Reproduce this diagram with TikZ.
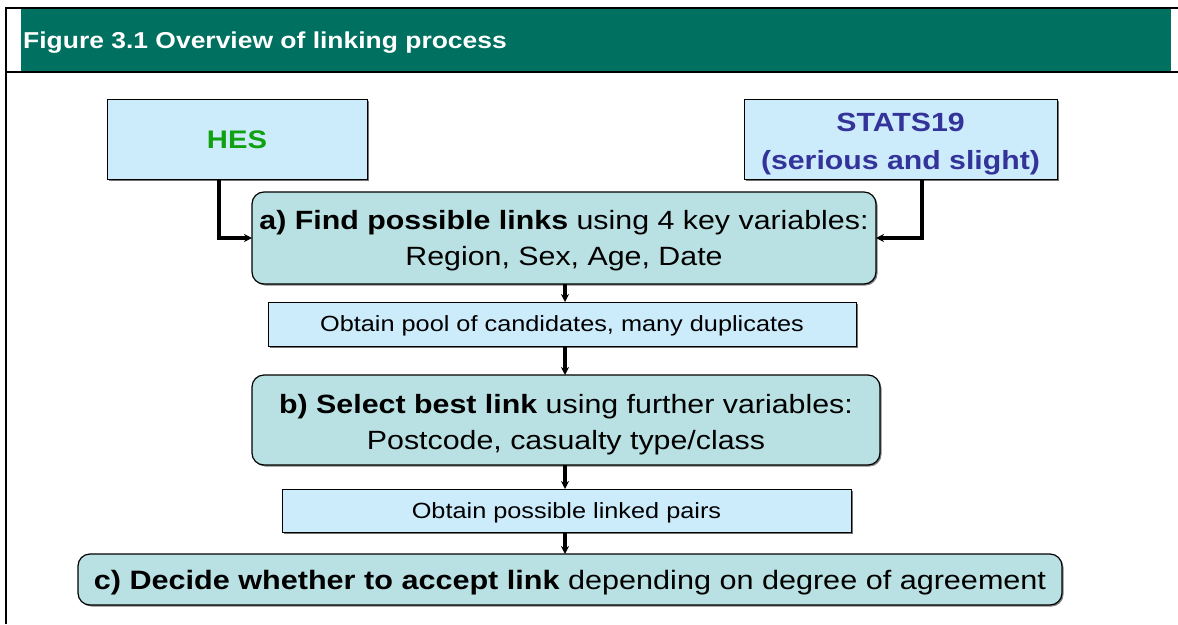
\documentclass[tikz,border=0pt]{standalone}
\usepackage{fontspec}
\setmainfont{Liberation Sans}[FakeStretch=1.15]
\usetikzlibrary{arrows.meta,shadows}

\definecolor{bandgreen}{RGB}{0,112,96}
\definecolor{srcfill}{RGB}{204,236,252}
\definecolor{stepfill}{RGB}{185,224,226}
\definecolor{hesgreen}{RGB}{16,160,16}
\definecolor{statsblue}{RGB}{51,51,153}

\tikzset{
  srcbox/.style={draw=black, line width=1pt, fill=srcfill, inner sep=0pt, outer sep=0pt,
    drop shadow={shadow xshift=1.5pt, shadow yshift=-1.5pt, opacity=0.55, fill=black}},
  stepbox/.style={draw=black, line width=1.2pt, fill=stepfill, rounded corners=12pt,
    inner sep=0pt, outer sep=0pt, align=center,
    drop shadow={shadow xshift=1.5pt, shadow yshift=-1.5pt, opacity=0.5, fill=black}},
  % text boxes cut to cap top / last baseline so the letters sit in the middle
  notebox/.style={srcbox, align=center, font=\fontsize{22}{26}\selectfont,
    text height=15.8pt, text depth=0pt},
  onelinetext/.style={font=\fontsize{26.6}{36}\selectfont, text height=19pt, text depth=0pt},
  twolinetext/.style={font=\fontsize{26.4}{36}\selectfont, text height=54.9pt, text depth=0pt},
  flow/.style={line width=3.4pt, -{Stealth[length=8pt,width=8pt]}},
  rule/.style={line width=1.5pt}
}

\begin{document}
\begin{tikzpicture}[x=1pt,y=-1pt]
  \useasboundingbox (0,0) rectangle (1178,624);
  \fill[white] (0,0) rectangle (1178,624);

  % header band and frame
  \fill[bandgreen] (21,9) rectangle (1171,71.5);
  \draw[rule] (6,624) -- (6,8) -- (1178,8);
  \draw[rule] (6,72) -- (1178,72);
  \node[anchor=base west, inner sep=0pt, text=white,
        font=\fontsize{23}{27}\selectfont\bfseries] (title) at (23,48)
        {Figure 3.1 Overview of linking process};

  % data sources
  \node[srcbox, minimum width=260pt, minimum height=80pt, text=hesgreen,
        font=\fontsize{25.4}{30}\selectfont\bfseries, text height=18.2pt, text depth=0pt]
        (hes) at (237,139) {HES};
  \node[srcbox, minimum width=313pt, minimum height=80pt, text=statsblue, align=center,
        font=\fontsize{26.3}{38}\selectfont\bfseries, text height=60.8pt, text depth=0pt]
        (stats) at (900.5,139) {STATS19\\(serious and slight)};

  % process steps
  \node[stepbox, twolinetext, minimum width=624pt, minimum height=92pt] (a) at (564,238)
        {\textbf{a) Find possible links} using 4 key variables:\\Region, Sex, Age, Date};
  \node[notebox, minimum width=588pt, minimum height=44pt] (pool) at (562,324)
        {Obtain pool of candidates, many duplicates};
  \node[stepbox, twolinetext, text height=58pt, minimum width=628pt, minimum height=90pt]
        (b) at (566,420)
        {\textbf{b) Select best link} using further variables:\\Postcode, casualty type/class};
  \node[notebox, minimum width=569pt, minimum height=43pt] (pairs) at (566.5,510.5)
        {Obtain possible linked pairs};
  \node[stepbox, onelinetext, minimum width=984pt, minimum height=51pt] (c) at (570,579.5)
        {\textbf{c) Decide whether to accept link} depending on degree of agreement};

  % connectors
  \draw[flow] ([xshift=-18pt]hes.south) |- (a.west);
  \draw[flow] ([xshift=21.5pt]stats.south) |- (a.east);
  \draw[flow] ([xshift=1pt]a.south) -- ([xshift=1pt]a.south |- pool.north);
  \draw[flow] ([xshift=1pt]a.south |- pool.south) -- ([xshift=1pt]a.south |- b.north);
  \draw[flow] ([xshift=1pt]a.south |- b.south) -- ([xshift=1pt]a.south |- pairs.north);
  \draw[flow] ([xshift=1pt]a.south |- pairs.south) -- ([xshift=1pt]a.south |- c.north);
\end{tikzpicture}
\end{document}
